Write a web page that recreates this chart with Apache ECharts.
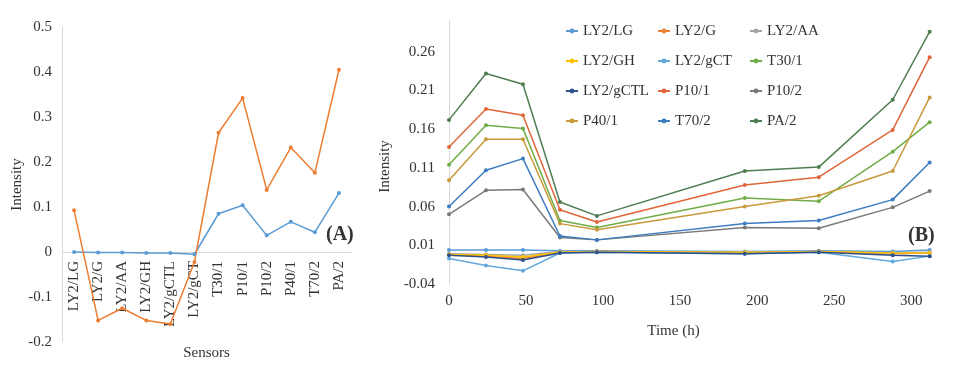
<!DOCTYPE html>
<html>
<head>
<meta charset="utf-8">
<script src="https://cdn.jsdelivr.net/npm/echarts@6/dist/echarts.min.js"></script>
<style>
html,body{margin:0;padding:0;background:#fff;}
#main{width:963px;height:373px;}
</style>
</head>
<body>
<div id="main"></div>
<script>
// ---------- Panel A data ----------
const sensorsA = ['LY2/LG','LY2/G','LY2/AA','LY2/GH','LY2/gCTL','LY2/gCT','T30/1','P10/1','P10/2','P40/1','T70/2','PA/2'];
const seriesA1 = [0.000,-0.001,-0.001,-0.002,-0.002,-0.005,0.085,0.104,0.037,0.067,0.044,0.131];
const seriesA2 = [0.093,-0.152,-0.125,-0.152,-0.160,-0.022,0.265,0.342,0.138,0.232,0.176,0.405];

// ---------- Panel B data ----------
const timesB = [0,24,48,72,96,192,240,288,312];
const namesB = ['LY2/LG','LY2/G','LY2/AA','LY2/GH','LY2/gCT','T30/1','LY2/gCTL','P10/1','P10/2','P40/1','T70/2','PA/2'];
const LY2_LG   = [0.004,0.004,0.004,0.003,0.003,0.002,0.003,0.002,0.004];
const LY2_G    = [-0.002,-0.004,-0.007,0.001,0.002,0.000,0.002,-0.001,0.000];
const LY2_AA   = [-0.001,-0.002,-0.003,0.002,0.002,0.001,0.002,0.000,0.001];
const LY2_GH   = [-0.002,-0.003,-0.005,0.001,0.002,0.001,0.002,0.000,0.000];
const LY2_gCT  = [-0.007,-0.016,-0.023,0.000,0.001,-0.001,0.001,-0.011,-0.004];
const T30_1    = [0.114,0.165,0.161,0.042,0.033,0.071,0.067,0.131,0.169];
const LY2_gCTL = [-0.003,-0.005,-0.009,0.000,0.001,-0.001,0.001,-0.003,-0.004];
const P10_1    = [0.137,0.186,0.178,0.056,0.040,0.088,0.098,0.159,0.253];
const P10_2    = [0.050,0.081,0.082,0.020,0.017,0.033,0.032,0.059,0.080];
const P40_1    = [0.094,0.147,0.147,0.038,0.030,0.060,0.074,0.106,0.201];
const T70_2    = [0.060,0.107,0.122,0.022,0.017,0.038,0.042,0.069,0.117];
const PA_2     = [0.172,0.232,0.218,0.066,0.048,0.106,0.111,0.198,0.286];
const valuesB = [LY2_LG,LY2_G,LY2_AA,LY2_GH,LY2_gCT,T30_1,LY2_gCTL,P10_1,P10_2,P40_1,T70_2,PA_2];
const colorsB = ['#5b9bd5','#ed7d31','#a5a5a5','#ffc000','#62a8dc','#70ad47','#2f4f8a','#e0663a','#7a7a7a','#c89a3c','#3d7cc0','#4f7c50'];

const FONT = "'Liberation Serif','Times New Roman',serif";
const TXT = '#333';
const AXC = '#d9d9d9';

const chart = echarts.init(document.getElementById('main'), null, {renderer:'canvas'});

const series = [];
series.push({
  name:'Series 1', type:'line', xAxisIndex:0, yAxisIndex:0,
  data: seriesA1, symbol:'circle', symbolSize:4, color:'#5b9bd5',
  lineStyle:{width:1.5}, animation:false
});
series.push({
  name:'Series 2', type:'line', xAxisIndex:0, yAxisIndex:0,
  data: seriesA2, symbol:'circle', symbolSize:4, color:'#ed7d31',
  lineStyle:{width:1.5}, animation:false
});
namesB.forEach((n,i)=>{
  series.push({
    name:n, type:'line', xAxisIndex:1, yAxisIndex:1,
    data: timesB.map((t,j)=>[t, valuesB[i][j]]),
    symbol:'circle', symbolSize:4, color:colorsB[i],
    lineStyle:{width:1.5}, animation:false
  });
});

const option = {
  animation:false,
  textStyle:{fontFamily:FONT},
  grid:[
    {left:62, top:27, width:289, height:315, containLabel:false, outerBoundsMode:'none'},
    {left:449, top:20.8, width:493, height:263.2, containLabel:false, outerBoundsMode:'none'}
  ],
  legend:{
    data:namesB, left:560, top:12.5, width:290,
    orient:'horizontal', itemGap:3, itemWidth:12, itemHeight:6,
    textStyle:{fontFamily:FONT, fontSize:15, color:TXT, width:71, lineHeight:27}
  },
  xAxis:[
    {
      type:'category', gridIndex:0, data:sensorsA, boundaryGap:true,
      offset:-90,
      axisLine:{show:true, onZero:false, lineStyle:{color:AXC, width:1}},
      axisTick:{show:false},
      axisLabel:{rotate:90, margin:9, fontFamily:FONT, fontSize:15, color:TXT, interval:0},
      splitLine:{show:false},
      name:'Sensors', nameLocation:'middle', nameGap:94,
      nameTextStyle:{fontFamily:FONT, fontSize:15, color:TXT}
    },
    {
      type:'value', gridIndex:1, min:0, max:320, interval:50,
      axisLine:{show:false}, axisTick:{show:false}, splitLine:{show:false},
      axisLabel:{margin:10, fontFamily:FONT, fontSize:15, color:TXT, showMaxLabel:false,
        formatter:v=> (v % 50 === 0 ? String(v) : '')},
      name:'Time (h)', nameLocation:'middle', nameGap:40,
      nameTextStyle:{fontFamily:FONT, fontSize:15, color:TXT, padding:[0,44,0,0]}
    }
  ],
  yAxis:[
    {
      type:'value', gridIndex:0, min:-0.2, max:0.5, interval:0.1,
      axisLine:{show:true, lineStyle:{color:AXC, width:1}},
      axisTick:{show:false}, splitLine:{show:false},
      axisLabel:{margin:10, fontFamily:FONT, fontSize:15, color:TXT},
      name:'Intensity', nameLocation:'middle', nameGap:36,
      nameTextStyle:{fontFamily:FONT, fontSize:15, color:TXT}
    },
    {
      type:'value', gridIndex:1, min:-0.04, max:0.30, interval:0.01,
      axisLine:{show:true, onZero:false, lineStyle:{color:AXC, width:1}},
      axisTick:{show:false}, splitLine:{show:false},
      axisLabel:{margin:14, fontFamily:FONT, fontSize:15, color:TXT,
        formatter:v=>{ const k = Math.round((v+0.04)*100); return (k % 5 === 0) ? v.toFixed(2) : ''; }},
      name:'Intensity', nameLocation:'middle', nameGap:43,
      nameTextStyle:{fontFamily:FONT, fontSize:15, color:TXT, padding:[0,28,0,0]}
    }
  ],
  graphic:[
    {type:'text', left:326, top:225, style:{text:'(A)', font:"bold 20px 'Liberation Serif', serif", fill:'#333'}},
    {type:'text', left:908, top:226, style:{text:'(B)', font:"bold 20px 'Liberation Serif', serif", fill:'#333'}}
  ],
  series: series
};
chart.setOption(option);
</script>
</body>
</html>
